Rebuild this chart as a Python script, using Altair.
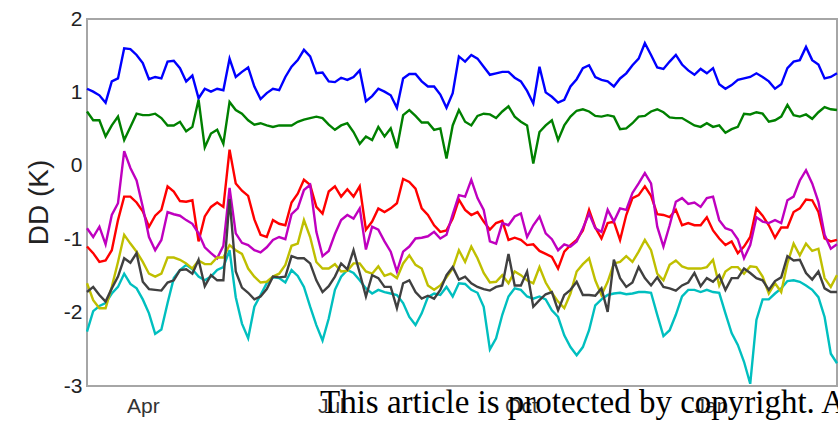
import altair as alt
import pandas as pd

# sample dates (every 3 days)
dates = pd.date_range("2013-03-05", periods=122, freq="3D").strftime("%Y-%m-%d").tolist()

blue = [1.05, 1.01, 0.96, 0.86, 1.15, 1.19, 1.60, 1.59, 1.51, 1.40,
        1.18, 1.21, 1.19, 1.42, 1.43, 1.33, 1.15, 1.23, 0.92, 1.05,
        1.01, 1.05, 1.03, 1.46, 1.21, 1.28, 1.34, 1.08, 0.91, 0.99,
        1.05, 1.03, 1.21, 1.35, 1.44, 1.58, 1.49, 1.26, 1.27, 1.15,
        1.14, 1.20, 1.17, 1.21, 1.30, 0.88, 0.95, 1.05, 1.01, 0.96,
        0.79, 1.19, 1.25, 1.25, 1.15, 1.08, 1.08, 0.97, 0.79, 0.99,
        1.49, 1.42, 1.51, 1.46, 1.35, 1.24, 1.26, 1.28, 1.28, 1.20,
        1.15, 1.02, 0.85, 1.35, 1.00, 0.94, 0.86, 0.90, 1.08, 1.18,
        1.33, 1.37, 1.21, 1.17, 1.15, 1.08, 1.19, 1.26, 1.37, 1.46,
        1.67, 1.51, 1.34, 1.32, 1.42, 1.51, 1.38, 1.30, 1.24, 1.32,
        1.26, 1.33, 1.11, 1.05, 1.10, 1.17, 1.19, 1.21, 1.26, 1.21,
        1.15, 1.05, 1.11, 1.33, 1.42, 1.44, 1.62, 1.44, 1.38, 1.19,
        1.21, 1.26]

green = [0.74, 0.62, 0.62, 0.40, 0.55, 0.67, 0.35, 0.53, 0.71, 0.69,
         0.69, 0.71, 0.65, 0.55, 0.55, 0.60, 0.47, 0.53, 0.90, 0.25,
         0.44, 0.49, 0.30, 0.87, 0.76, 0.71, 0.62, 0.56, 0.58, 0.55,
         0.53, 0.55, 0.55, 0.55, 0.60, 0.63, 0.65, 0.67, 0.65, 0.56,
         0.49, 0.55, 0.58, 0.46, 0.30, 0.40, 0.35, 0.53, 0.40, 0.51,
         0.24, 0.69, 0.76, 0.68, 0.59, 0.59, 0.49, 0.51, 0.10, 0.55,
         0.76, 0.60, 0.55, 0.68, 0.71, 0.70, 0.65, 0.74, 0.81, 0.67,
         0.60, 0.55, 0.03, 0.46, 0.55, 0.62, 0.35, 0.55, 0.67, 0.75,
         0.77, 0.74, 0.68, 0.67, 0.69, 0.67, 0.50, 0.51, 0.58, 0.67,
         0.68, 0.74, 0.77, 0.73, 0.66, 0.65, 0.65, 0.60, 0.55, 0.53,
         0.58, 0.53, 0.55, 0.45, 0.50, 0.53, 0.71, 0.70, 0.73, 0.71,
         0.60, 0.62, 0.67, 0.83, 0.69, 0.67, 0.70, 0.64, 0.73, 0.80,
         0.77, 0.76]

red = [-1.10, -1.19, -1.31, -1.29, -1.15, -0.74, -0.42, -0.42, -0.50, -0.62,
       -0.83, -0.68, -0.60, -0.28, -0.35, -0.48, -0.49, -0.47, -1.03, -0.69,
       -0.56, -0.50, -0.56, 0.22, -0.24, -0.34, -0.41, -0.73, -0.94, -0.97,
       -0.74, -0.79, -0.81, -0.50, -0.38, -0.19, -0.26, -0.56, -0.65, -0.35,
       -0.28, -0.42, -0.32, -0.42, -0.28, -0.87, -0.76, -0.58, -0.63, -0.58,
       -0.51, -0.18, -0.22, -0.31, -0.58, -0.67, -0.81, -0.90, -0.88, -0.72,
       -0.46, -0.60, -0.67, -0.63, -0.76, -0.87, -0.78, -0.75, -1.01, -0.98,
       -1.01, -1.08, -1.07, -1.16, -1.20, -1.24, -1.40, -1.17, -1.08, -1.01,
       -0.88, -0.60, -0.84, -0.99, -0.78, -0.76, -1.01, -0.67, -0.44, -0.40,
       -0.28, -0.41, -0.66, -0.67, -0.70, -0.60, -0.81, -0.78, -0.81, -0.81,
       -0.70, -0.88, -0.99, -1.08, -1.03, -1.19, -1.10, -0.97, -0.58, -0.68,
       -0.81, -0.98, -0.84, -0.84, -0.63, -0.58, -0.46, -0.47, -0.63, -0.99,
       -1.03, -1.01]

magenta = [-0.85, -0.97, -0.83, -1.07, -0.67, -0.51, 0.20, -0.03, -0.20, -0.56,
           -0.97, -1.15, -1.01, -0.63, -0.66, -0.68, -0.74, -0.79, -0.92, -1.11,
           -1.19, -1.26, -1.09, -0.30, -0.92, -1.05, -1.08, -1.15, -1.18, -1.11,
           -1.01, -0.97, -1.00, -0.66, -0.58, -0.33, -0.26, -0.90, -1.23, -1.16,
           -0.93, -0.74, -0.67, -0.72, -0.58, -1.14, -0.83, -0.87, -1.03, -1.17,
           -1.44, -1.17, -1.10, -0.99, -0.98, -0.96, -0.90, -0.99, -0.94, -0.66,
           -0.40, -0.42, -0.19, -0.44, -0.60, -1.03, -1.06, -0.78, -0.81, -0.69,
           -0.65, -0.97, -0.81, -0.69, -0.92, -1.00, -1.15, -1.07, -1.10, -1.03,
           -0.85, -0.65, -0.85, -0.90, -0.60, -0.76, -0.58, -0.60, -0.37, -0.24,
           -0.10, -0.24, -0.83, -1.10, -0.81, -0.49, -0.44, -0.52, -0.50, -0.56,
           -0.44, -0.42, -0.74, -0.85, -0.88, -1.00, -1.26, -1.08, -0.70, -0.76,
           -0.78, -0.74, -0.78, -0.47, -0.42, -0.20, -0.06, -0.24, -0.49, -0.94,
           -1.13, -1.07]

olive = [-1.60, -1.83, -1.94, -1.94, -1.65, -1.31, -0.94, -1.06, -1.17, -1.31,
         -1.47, -1.51, -1.47, -1.25, -1.25, -1.28, -1.33, -1.40, -1.29, -1.34,
         -1.34, -1.25, -1.25, -1.08, -1.15, -1.20, -1.40, -1.51, -1.59, -1.58,
         -1.51, -1.47, -1.35, -1.09, -1.06, -0.74, -0.97, -1.31, -1.40, -1.40,
         -1.34, -1.44, -1.43, -1.33, -1.33, -1.44, -1.47, -1.37, -1.50, -1.47,
         -1.53, -1.33, -1.22, -1.35, -1.40, -1.63, -1.69, -1.63, -1.52, -1.40,
         -1.15, -1.31, -1.10, -1.26, -1.46, -1.59, -1.58, -1.49, -1.60, -1.44,
         -1.49, -1.56, -1.60, -1.38, -1.59, -1.73, -1.85, -1.94, -1.74, -1.44,
         -1.34, -1.26, -1.56, -1.76, -1.58, -1.33, -1.31, -1.23, -1.31, -1.17,
         -1.01, -1.15, -1.47, -1.56, -1.35, -1.29, -1.37, -1.40, -1.40, -1.40,
         -1.38, -1.28, -1.63, -1.44, -1.38, -1.38, -1.47, -1.37, -1.38, -1.51,
         -1.74, -1.60, -1.72, -1.33, -1.06, -1.22, -1.06, -1.16, -1.13, -1.53,
         -1.65, -1.49]

black = [-1.72, -1.65, -1.76, -1.85, -1.67, -1.51, -1.26, -1.32, -1.19, -1.58,
         -1.68, -1.69, -1.70, -1.59, -1.56, -1.42, -1.41, -1.47, -1.28, -1.64,
         -1.49, -1.56, -1.56, -0.45, -1.44, -1.66, -1.73, -1.82, -1.78, -1.68,
         -1.51, -1.52, -1.51, -1.23, -1.26, -1.26, -1.33, -1.56, -1.72, -1.64,
         -1.51, -1.33, -1.41, -1.15, -1.46, -1.78, -1.49, -1.53, -1.65, -1.65,
         -1.94, -1.60, -1.56, -1.72, -1.81, -1.77, -1.81, -1.69, -1.49, -1.38,
         -1.55, -1.51, -1.60, -1.65, -1.68, -1.70, -1.65, -1.63, -1.20, -1.63,
         -1.63, -1.44, -1.92, -1.83, -1.75, -1.72, -1.97, -1.76, -1.69, -1.58,
         -1.76, -1.76, -1.77, -1.67, -1.99, -1.28, -1.53, -1.65, -1.59, -1.38,
         -1.53, -1.63, -1.52, -1.65, -1.67, -1.70, -1.63, -1.59, -1.46, -1.64,
         -1.53, -1.58, -1.49, -1.69, -1.53, -1.53, -1.40, -1.46, -1.53, -1.56,
         -1.69, -1.57, -1.52, -1.23, -1.29, -1.28, -1.46, -1.55, -1.44, -1.67,
         -1.72, -1.72]

cyan = [-2.26, -1.98, -1.91, -1.87, -1.74, -1.65, -1.47, -1.61, -1.67, -1.82,
        -2.01, -2.29, -2.23, -1.87, -1.53, -1.42, -1.35, -1.41, -1.51, -1.56,
        -1.51, -1.42, -1.38, -1.15, -1.79, -2.15, -2.35, -1.92, -1.76, -1.60,
        -1.52, -1.53, -1.59, -1.42, -1.50, -1.65, -1.92, -2.17, -2.38, -2.08,
        -1.69, -1.51, -1.42, -1.46, -1.56, -1.67, -1.74, -1.69, -1.72, -1.74,
        -1.76, -1.87, -2.06, -2.17, -2.01, -1.79, -1.74, -1.76, -1.65, -1.78,
        -1.60, -1.61, -1.69, -1.73, -1.92, -2.50, -2.35, -2.03, -1.78, -1.67,
        -1.69, -1.78, -1.81, -1.78, -1.82, -1.97, -2.06, -2.31, -2.47, -2.58,
        -2.47, -2.24, -1.90, -1.82, -1.76, -1.74, -1.73, -1.75, -1.74, -1.72,
        -1.72, -1.73, -2.03, -2.32, -2.24, -2.03, -1.78, -1.69, -1.69, -1.72,
        -1.69, -1.72, -1.73, -2.01, -2.28, -2.44, -2.67, -2.97, -2.10, -1.82,
        -1.82, -1.74, -1.67, -1.57, -1.56, -1.58, -1.63, -1.69, -1.79, -2.06,
        -2.56, -2.69]

y_ticks = [-3, -2, -1, 0, 1, 2]
watermark = "This article is protected by copyright. All rights reserved."

series = [
    (blue, "#0000ff"),
    (green, "#008000"),
    (red, "#ff0000"),
    (cyan, "#00bfbf"),
    (magenta, "#bf00bf"),
    (olive, "#bfbf00"),
    (black, "#404040"),
]

FONT = "Liberation Sans"

x_enc = alt.X(
    "date:T",
    scale=alt.Scale(
        type="utc",
        domain=[alt.DateTime(year=2013, month=3, date=5, utc=True),
                alt.DateTime(year=2014, month=3, date=3, utc=True)],
    ),
    axis=alt.Axis(
        values=[alt.DateTime(year=2013, month=4, date=1, utc=True),
                alt.DateTime(year=2013, month=7, date=1, utc=True),
                alt.DateTime(year=2013, month=10, date=1, utc=True),
                alt.DateTime(year=2014, month=1, date=1, utc=True)],
        format="%b",
        title=None,
        grid=False,
        ticks=False,
        domain=False,
        labelFont=FONT,
        labelFontSize=21,
        labelColor="#333333",
        labelPadding=9,
    ),
)

y_enc = alt.Y(
    "dd:Q",
    scale=alt.Scale(domain=[-3, 2], nice=False),
    axis=alt.Axis(
        values=y_ticks,
        labelExpr="datum.value < 0 ? '-' + abs(datum.value) : '' + datum.value",
        title="DD (K)",
        grid=False,
        ticks=False,
        domain=False,
        labelFont=FONT,
        labelFontSize=21,
        labelColor="#222222",
        labelPadding=5,
        titleFont=FONT,
        titleFontSize=28,
        titleFontWeight="normal",
        titleColor="#222222",
        titleAngle=270,
        titleAlign="center",
        titleBaseline="alphabetic",
        titleX=-40,
        titleY=183,
    ),
)

layers = []
for vals, col in series:
    df = pd.DataFrame({"date": dates, "dd": vals})
    layers.append(
        alt.Chart(df).mark_line(color=col, strokeWidth=2.4).encode(x=x_enc, y=y_enc)
    )

wm = alt.Chart(pd.DataFrame({"t": [watermark]})).mark_text(
    align="left", baseline="alphabetic", font="Liberation Serif",
    fontSize=33, color="#000000"
).encode(x=alt.value(233), y=alt.value(394), text="t:N")

chart = alt.layer(*layers, wm).properties(
    width=750,
    height=367,
    autosize=alt.AutoSizeParams(type="none"),
    padding={"left": 87, "top": 19, "right": 1, "bottom": 35},
    background="white",
).configure_view(stroke="#a6a6a6", strokeWidth=2)

chart.save("out.html", embed_options={"renderer": "svg", "actions": False})
